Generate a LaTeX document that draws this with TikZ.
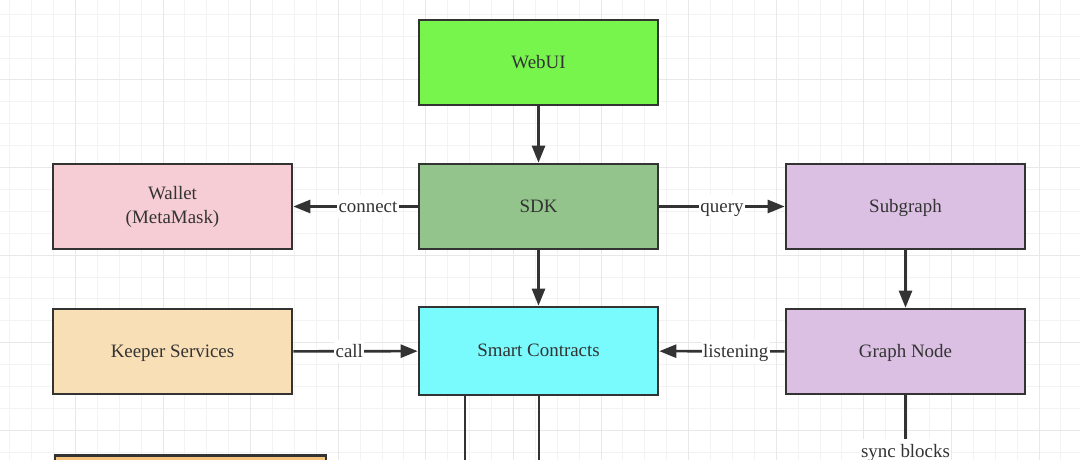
\documentclass[tikz,border=0pt]{standalone}
\usepackage{fontspec}
\setmainfont{Liberation Serif}
\usetikzlibrary{arrows.meta}
\definecolor{gridminor}{HTML}{F3F3F3}
\definecolor{gridmajor}{HTML}{E8E8E8}
\definecolor{edge}{HTML}{333333}
\definecolor{txt}{HTML}{333333}
\definecolor{cweb}{HTML}{77F54C}
\definecolor{csdk}{HTML}{93C48B}
\definecolor{cwallet}{HTML}{F6CDD4}
\definecolor{cpurple}{HTML}{DBC0E3}
\definecolor{ckeeper}{HTML}{F9DFB6}
\definecolor{csmart}{HTML}{79FAFD}
\definecolor{corange}{HTML}{F5C27C}
\tikzset{
  box/.style={draw=edge, line width=2.6bp, minimum width=239bp, minimum height=85bp,
    inner sep=0pt, align=center, text=txt, font=\fontsize{19}{25}\selectfont,
    text height=16bp, text depth=4bp},
  conn/.style={draw=edge, line width=2.6bp, -{Triangle[length=17bp,width=13bp]}},
  plain/.style={draw=edge, line width=2.6bp},
  lbl/.style={fill=white, inner sep=1.5bp, text=txt, font=\fontsize{19}{22}\selectfont,
    text height=16bp, text depth=4bp}
}
\begin{document}
\begin{tikzpicture}[x=1bp,y=-1bp]
\clip (0,0) rectangle (1080,460);
\fill[white] (0,0) rectangle (1080,460);
% grid
\foreach \i in {0,...,49} {
  \pgfmathsetmacro{\gx}{9.7+21.9*\i}
  \draw[gridminor, line width=1bp] (\gx,0) -- (\gx,460);
}
\foreach \i in {0,...,21} {
  \pgfmathsetmacro{\gy}{14.3+21.9*\i}
  \draw[gridminor, line width=1bp] (0,\gy) -- (1080,\gy);
}
\foreach \i in {0,...,12} {
  \pgfmathsetmacro{\gx}{75.4+87.6*\i}
  \draw[gridmajor, line width=1bp] (\gx,0) -- (\gx,460);
}
\foreach \i in {0,...,5} {
  \pgfmathsetmacro{\gy}{80+87.6*\i-87.6}
  \draw[gridmajor, line width=1bp] (0,\gy) -- (1080,\gy);
}
% nodes
\node[box, fill=cweb] (web) at (538.5,62.5) {WebUI};
\node[box, fill=csdk] (sdk) at (538.5,206.5) {SDK};
\node[box, fill=cwallet, text height=39bp, text depth=4bp] (wallet) at (172.5,206.5) {Wallet\\(MetaMask)};
\node[box, fill=cpurple] (sub) at (905.5,206.5) {Subgraph};
\node[box, fill=ckeeper] (keeper) at (172.5,351.5) {Keeper Services};
\node[box, fill=csmart, minimum height=88bp] (smart) at (538.5,351) {Smart Contracts};
\node[box, fill=cpurple] (gnode) at (905.5,351.5) {Graph Node};
\node[box, fill=corange, anchor=north west, minimum width=271bp, minimum height=80bp] (lower) at (53.5,454) {};
% free ends
\coordinate (s1) at (465,480);
\coordinate (s2) at (539,480);
\coordinate (g1) at (905.5,480);
% connectors
\draw[conn] (web) -- (sdk);
\draw[conn] (sdk) -- (smart);
\draw[conn] (sdk) -- node[lbl, pos=0.4] {connect} (wallet);
\draw[conn] (sdk) -- node[lbl, pos=0.5] {query} (sub);
\draw[conn] (sub) -- (gnode);
\draw[conn] (keeper) -- node[lbl, pos=0.45] {call} (smart);
\draw[conn] (gnode) -- node[lbl, pos=0.39] {listening} (smart);
\draw[plain] (smart.south -| s1) -- (s1);
\draw[plain] (smart.south -| s2) -- (s2);
\draw[plain] (gnode) -- (g1);
\node[lbl, anchor=base] (sync) at (905.5,457) {sync blocks};
\end{tikzpicture}
\end{document}
